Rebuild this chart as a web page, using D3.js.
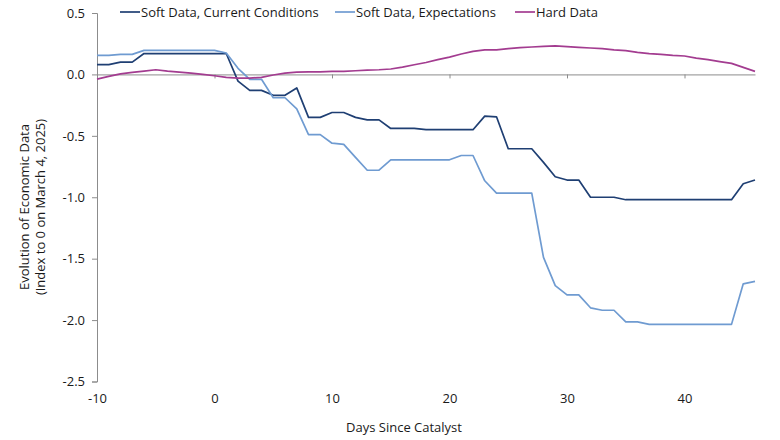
<!DOCTYPE html>
<html>
<head>
<meta charset="utf-8">
<script src="https://cdn.jsdelivr.net/npm/d3@7/dist/d3.min.js"></script>
<style>
    body { margin: 0; background: #fff; }
    svg text { font-family: "Open Sans", "Noto Sans", sans-serif; fill: #1a1a1a; }
</style>
</head>
<body>
<div id="chart"></div>
<script>
// days since catalyst, -10 .. 46
var days = d3.range(-10, 47);

var currentConditions = [
    0.08, 0.08, 0.10, 0.10, 0.17, 0.17, 0.17, 0.17, 0.17, 0.17,   // -10 .. -1
    0.17, 0.17, -0.055, -0.13, -0.13, -0.17, -0.17, -0.11, -0.35, -0.35, // 0 .. 9
    -0.31, -0.31, -0.35, -0.37, -0.37, -0.44, -0.44, -0.44, -0.45, -0.45, // 10 .. 19
    -0.45, -0.45, -0.45, -0.34, -0.345, -0.605, -0.605, -0.605, -0.716, -0.833, // 20 .. 29
    -0.86, -0.86, -1.0, -1.0, -1.0, -1.02, -1.02, -1.02, -1.02, -1.02, // 30 .. 39
    -1.02, -1.02, -1.02, -1.02, -1.02, -0.89, -0.86 // 40 .. 46
];

var expectations = [
    0.155, 0.155, 0.163, 0.163, 0.196, 0.196, 0.196, 0.196, 0.196, 0.196,
    0.196, 0.174, 0.05, -0.04, -0.04, -0.19, -0.19, -0.28, -0.49, -0.49,
    -0.56, -0.57, -0.675, -0.78, -0.78, -0.695, -0.695, -0.695, -0.695, -0.695,
    -0.695, -0.66, -0.66, -0.866, -0.967, -0.967, -0.967, -0.967, -1.49, -1.72,
    -1.795, -1.795, -1.90, -1.92, -1.92, -2.015, -2.015, -2.035, -2.035, -2.035,
    -2.035, -2.035, -2.035, -2.035, -2.035, -1.705, -1.685
];

var hardData = [
    -0.038, -0.016, 0.005, 0.016, 0.027, 0.038, 0.027, 0.019, 0.011, 0.0,
    -0.011, -0.024, -0.03, -0.03, -0.024, -0.005, 0.01, 0.019, 0.02, 0.02,
    0.025, 0.025, 0.03, 0.035, 0.038, 0.044, 0.06, 0.079, 0.097, 0.12,
    0.141, 0.166, 0.188, 0.20, 0.20, 0.21, 0.218, 0.223, 0.229, 0.232,
    0.226, 0.22, 0.215, 0.21, 0.20, 0.193, 0.18, 0.17, 0.163, 0.155,
    0.15, 0.133, 0.12, 0.104, 0.09, 0.057, 0.025
];

var seriesNames = ["Soft Data, Current Conditions", "Soft Data, Expectations", "Hard Data"];
var seriesColors = ["#1f3f73", "#6f9bd1", "#a33c90"];
var xTicks = [-10, 0, 10, 20, 30, 40];
var yTicks = [0.5, 0.0, -0.5, -1.0, -1.5, -2.0, -2.5];

(function() {
    var width = 780, height = 440;
    var plotLeft = 97, plotRight = 755, plotTop = 13, plotBottom = 381.5;

    var svg = d3.select("#chart").append("svg")
        .attr("width", width)
        .attr("height", height);

    var x = d3.scaleLinear().domain([-10, 46]).range([plotLeft, plotRight]);
    var y = d3.scaleLinear().domain([-2.5, 0.5]).range([plotBottom, plotTop]);

    // y axis
    var yAxis = svg.append("g")
        .attr("transform", "translate(" + plotLeft + ",0)")
        .call(d3.axisLeft(y).tickValues(yTicks).tickSize(5).tickPadding(7)
            .tickFormat(function(d) { return d.toFixed(1); }));
    yAxis.selectAll("path, line").attr("stroke", "#8c8c8c");
    yAxis.selectAll("text").style("font-size", "13px");

    // x axis line at zero
    var xAxis = svg.append("g")
        .attr("transform", "translate(0," + y(0) + ")")
        .call(d3.axisBottom(x).tickValues(xTicks).tickSize(4).tickSizeOuter(0)
            .tickFormat(""));
    xAxis.selectAll("path, line").attr("stroke", "#8c8c8c");

    // x tick labels at the bottom
    var xLabels = svg.append("g")
        .attr("transform", "translate(0,391)")
        .call(d3.axisBottom(x).tickValues(xTicks).tickSize(0)
            .tickFormat(function(d) { return String(d); }));
    xLabels.select(".domain").remove();
    xLabels.selectAll("text").style("font-size", "13px");

    // lines
    var line = d3.line()
        .x(function(d) { return x(d.day); })
        .y(function(d) { return y(d.value); });

    [currentConditions, expectations, hardData].forEach(function(values, i) {
        var pts = days.map(function(d, j) { return { day: d, value: values[j] }; });
        svg.append("path")
            .datum(pts)
            .attr("fill", "none")
            .attr("stroke", seriesColors[i])
            .attr("stroke-width", 1.7)
            .attr("stroke-linejoin", "round")
            .attr("d", line);
    });

    // axis titles
    svg.append("text")
        .attr("x", 404)
        .attr("y", 432)
        .attr("text-anchor", "middle")
        .style("font-size", "13px")
        .text("Days Since Catalyst");

    var yTitle = svg.append("text")
        .attr("transform", "translate(29,207) rotate(-90)")
        .attr("text-anchor", "middle")
        .style("font-size", "13px");
    yTitle.append("tspan").attr("x", 0).attr("dy", 0).text("Evolution of Economic Data");
    yTitle.append("tspan").attr("x", 0).attr("dy", 16).text("(Index to 0 on March 4, 2025)");

    // legend
    var legendX = [120, 335, 515];
    seriesNames.forEach(function(name, i) {
        var g = svg.append("g").attr("transform", "translate(" + legendX[i] + ",12)");
        g.append("line")
            .attr("x1", 0).attr("x2", 20)
            .attr("y1", 0).attr("y2", 0)
            .attr("stroke", seriesColors[i])
            .attr("stroke-width", 1.7);
        g.append("text")
            .attr("x", 21)
            .attr("y", 5)
            .style("font-size", "13px")
            .text(name);
    });
})();
</script>
</body>
</html>
